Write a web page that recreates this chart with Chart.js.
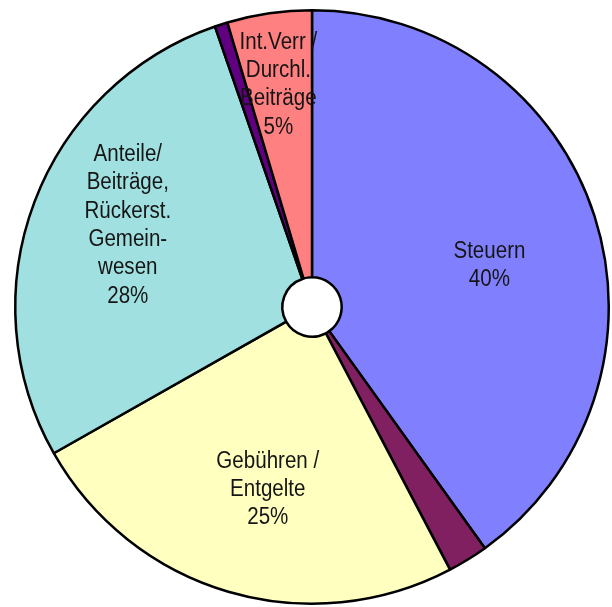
<!DOCTYPE html>
<html><head><meta charset="utf-8">
<script src="https://cdn.jsdelivr.net/npm/chart.js@4/dist/chart.umd.min.js"></script>
<style>html,body{margin:0;padding:0;background:#fff}#wrap{width:612px;height:607px;position:relative}</style>
</head><body><div id="wrap"><canvas id="c"></canvas></div>
<script>
const categories = ["Steuern", "Sonstige", "Gebühren / Entgelte", "Anteile/ Beiträge, Rückerst. Gemeinwesen", "Übrige", "Int.Verr / Durchl. Beiträge"];
const values = [40.1, 2.2, 24.5, 27.9, 0.7, 4.6];
const labelLines = [["Steuern","40%"], null, ["Gebühren /","Entgelte","25%"], ["Anteile/","Beiträge,","Rückerst.","Gemein-","wesen","28%"], null, ["Int.Verr /","Durchl.","Beiträge","5%"]];
const colors = ["#8080FF", "#802060", "#FFFFC0", "#A0E0E0", "#600080", "#FF8080"];

// label placement: radial fraction of outer radius, angle offset (deg) from slice middle
const labelPlace = [[0.615, 4.3], null, [0.63, -2.7], [0.68, 3.4], null, [0.76, -0.3]];

const labelPlugin = {
  id: 'sliceLabels',
  afterDatasetsDraw(chart) {
    const ctx = chart.ctx;
    const meta = chart.getDatasetMeta(0);
    ctx.save();
    ctx.font = '23px "Liberation Sans", Arial, sans-serif';
    const sx = 72 / ctx.measureText('Steuern').width;
    ctx.fillStyle = '#151515';
    ctx.textAlign = 'center';
    ctx.textBaseline = 'middle';
    const lh = 28.3;
    meta.data.forEach((arc, i) => {
      const lines = labelLines[i];
      if (!lines) return;
      const p = arc.getProps(['x','y','startAngle','endAngle','outerRadius'], true);
      const [frac, off] = labelPlace[i];
      const a = (p.startAngle + p.endAngle) / 2 + off * Math.PI / 180;
      const r = p.outerRadius * frac;
      const cx = p.x + Math.cos(a) * r;
      const cy = p.y + Math.sin(a) * r;
      const y0 = cy - (lines.length - 1) * lh / 2;
      lines.forEach((t, k) => {
        ctx.save();
        ctx.translate(cx, y0 + k * lh + 1);
        ctx.scale(sx, 1);
        ctx.fillText(t, 0, 0);
        ctx.restore();
      });
    });
    ctx.restore();
  }
};

new Chart(document.getElementById('c'), {
  type: 'doughnut',
  data: {
    labels: categories,
    datasets: [{
      data: values,
      backgroundColor: colors,
      borderColor: '#000',
      borderWidth: 2.5,
      borderAlign: 'center'
    }]
  },
  options: {
    responsive: true,
    maintainAspectRatio: false,
    animation: false,
    cutout: '10%',
    layout: { padding: { top: 9, bottom: 2, left: 14, right: 2 } },
    plugins: { legend: { display: false }, tooltip: { enabled: false } }
  },
  plugins: [labelPlugin]
});
</script>
</body></html>
